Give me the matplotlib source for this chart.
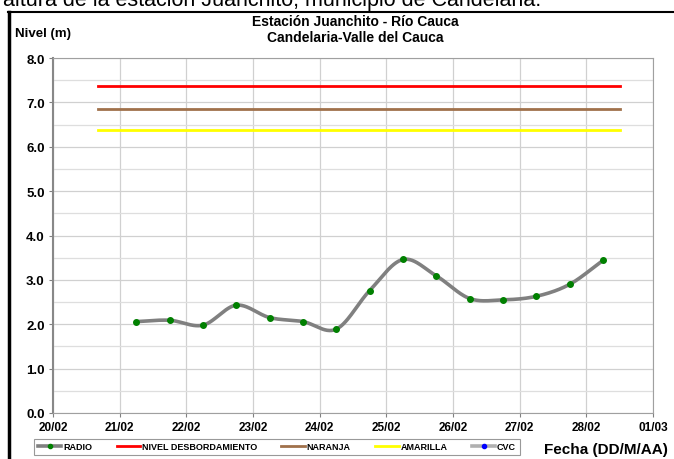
import matplotlib
matplotlib.use("Agg")
import matplotlib.pyplot as plt
from matplotlib.lines import Line2D
import numpy as np

# Datos: nivel del río (m), lecturas cada 12 h (días desde 20/02 00:00)
dias = [1.25, 1.75, 2.25, 2.75, 3.25, 3.75, 4.25, 4.75,
        5.25, 5.75, 6.25, 6.75, 7.25, 7.75, 8.25]
nivel = [2.06, 2.09, 1.98, 2.43, 2.15, 2.06, 1.89, 2.76,
         3.46, 3.09, 2.58, 2.55, 2.63, 2.90, 3.44]

umbral_inicio, umbral_fin = 0.67, 8.5
desbordamiento = 7.37
naranja = 6.86
amarilla = 6.37

etiquetas_x = ["20/02", "21/02", "22/02", "23/02", "24/02",
               "25/02", "26/02", "27/02", "28/02", "01/03"]

NARROW = ["Liberation Sans Narrow", "Liberation Sans", "DejaVu Sans"]


def catmull_rom(x, y, n=30):
    """Curva suavizada tipo Excel (Catmull-Rom)."""
    p = np.column_stack([x, y])
    p = np.vstack([2 * p[0] - p[1], p, 2 * p[-1] - p[-2]])
    out = []
    t = np.linspace(0, 1, n)[:, None]
    for i in range(1, len(p) - 2):
        p0, p1, p2, p3 = p[i - 1], p[i], p[i + 1], p[i + 2]
        seg = 0.5 * ((2 * p1) + (-p0 + p2) * t
                     + (2 * p0 - 5 * p1 + 4 * p2 - p3) * t ** 2
                     + (-p0 + 3 * p1 - 3 * p2 + p3) * t ** 3)
        out.append(seg)
    s = np.vstack(out)
    return s[:, 0], s[:, 1]


fig = plt.figure(figsize=(6.74, 4.6), dpi=100)
ax = fig.add_axes([53 / 674, 1 - 414 / 460, 600 / 674, 355 / 460])

# texto cortado del documento
fig.text(3 / 674, 1 - 6 / 460, "altura de la estación Juanchito, municipio de Candelaria.",
         fontsize=15.5, family=["Liberation Sans", "DejaVu Sans"], va="baseline", ha="left")
# marco negro
fig.add_artist(Line2D([9 / 674, 9 / 674], [0, 1 - 13 / 460], transform=fig.transFigure,
                      color="black", lw=2.5))
fig.add_artist(Line2D([8 / 674, 1], [1 - 13 / 460, 1 - 13 / 460], transform=fig.transFigure,
                      color="black", lw=1.5))

# umbrales
ax.plot([umbral_inicio, umbral_fin], [desbordamiento] * 2, color="#ff0000", lw=2,
        label="NIVEL DESBORDAMIENTO", zorder=3)
ax.plot([umbral_inicio, umbral_fin], [naranja] * 2, color="#a0714b", lw=2,
        label="NARANJA", zorder=3)
ax.plot([umbral_inicio, umbral_fin], [amarilla] * 2, color="#ffff00", lw=2,
        label="AMARILLA", zorder=3)

# serie radio
sx, sy = catmull_rom(dias, nivel)
ax.plot(sx, sy, color="#808080", lw=2.6, zorder=4, solid_capstyle="round")
ax.plot(dias, nivel, "o", color="#008000", ms=4, zorder=5)

# handles de la leyenda
h_radio = Line2D([], [], color="#808080", lw=2.6, marker="o", ms=3,
                 mfc="#008000", mec="#008000")
h_cvc = Line2D([], [], color="#b0b0b0", lw=2.6, marker="o", ms=3,
               mfc="#0000ff", mec="#0000ff")
h = ax.get_legend_handles_labels()[0]
handles = [h_radio] + h + [h_cvc]
labels = ["RADIO", "NIVEL DESBORDAMIENTO", "NARANJA", "AMARILLA", "CVC"]
leg = fig.legend(handles, labels, loc="center", ncol=5,
                 bbox_to_anchor=(277 / 674, 1 - 448 / 460),
                 prop={"family": NARROW, "weight": "bold", "size": 6.5},
                 frameon=True, fancybox=False, edgecolor="#808080",
                 handlelength=2.6, handletextpad=0.2, columnspacing=2.7,
                 borderpad=0.4)
leg.get_frame().set_linewidth(0.8)

ax.set_xlim(0, 9)
ax.set_ylim(0, 8)
ax.set_xticks(np.arange(10))
ax.set_xticklabels(etiquetas_x)
ax.set_yticks(np.arange(0, 9))
ax.set_yticklabels([f"{v:.1f}" for v in range(9)])
ax.set_yticks(np.arange(0.5, 8, 1), minor=True)
ax.tick_params(axis="y", which="minor", length=0)
ax.tick_params(axis="both", which="major", length=3, color="#808080", width=0.8,
               pad=3)
for lab in ax.get_xticklabels():
    lab.set_family(NARROW)
    lab.set_weight("bold")
    lab.set_fontsize(8.5)
for lab in ax.get_yticklabels():
    lab.set_family(NARROW)
    lab.set_weight("bold")
    lab.set_fontsize(9.5)

ax.grid(True, which="major", color="#d0d0d0", lw=0.9)
ax.grid(True, which="minor", axis="y", color="#dedede", lw=0.9)
ax.set_axisbelow(True)
for side in ["top", "right", "bottom"]:
    ax.spines[side].set_color("#a0a0a0")
    ax.spines[side].set_linewidth(0.8)
ax.spines["left"].set_color("#888888")
ax.spines["left"].set_linewidth(1.5)

fig.text(355 / 674, 1 - 22 / 460, "Estación Juanchito - Río Cauca",
         ha="center", va="center", family=NARROW, weight="bold", fontsize=10)
fig.text(355 / 674, 1 - 38 / 460, "Candelaria-Valle del Cauca",
         ha="center", va="center", family=NARROW, weight="bold", fontsize=10)
fig.text(15 / 674, 1 - 34 / 460, "Nivel (m)", ha="left", va="center",
         family=NARROW, weight="bold", fontsize=9.5)
fig.text(668 / 674, 1 - 450 / 460, "Fecha (DD/M/AA)", ha="right", va="center",
         family=NARROW, weight="bold", fontsize=11)

fig.savefig("out.png", dpi=100)
